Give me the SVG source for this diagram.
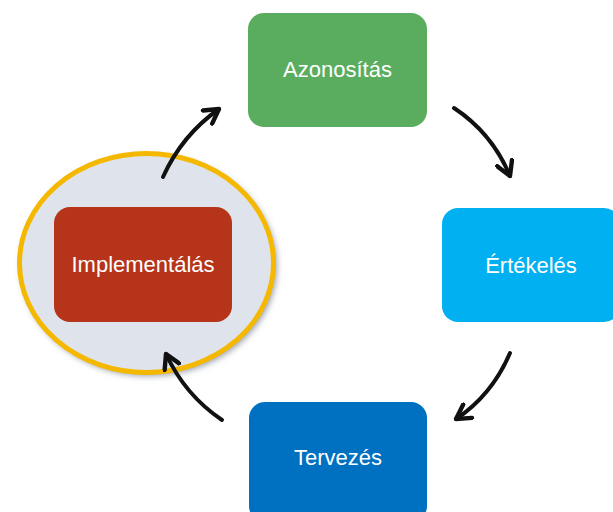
<svg xmlns="http://www.w3.org/2000/svg" width="613" height="512" viewBox="0 0 613 512">
<defs>
<style>
.lbl{font-family:"Liberation Sans",Arial,sans-serif;font-size:22px;text-anchor:middle;fill:#ffffff}
.arr{fill:none;stroke:#111;stroke-width:4;stroke-linecap:round;marker-end:url(#ah)}
</style>
<marker id="ah" viewBox="0 0 10 10" refX="8" refY="5" markerWidth="5" markerHeight="5" orient="auto" markerUnits="strokeWidth">
<polyline points="1,1 8,5 1,9" fill="none" stroke="#111" stroke-width="2.2" stroke-linecap="round" stroke-linejoin="round"/>
</marker>
<filter id="sh" x="-10%" y="-10%" width="120%" height="120%">
<feGaussianBlur stdDeviation="3"/>
</filter>
</defs>
<rect width="613" height="512" fill="#ffffff"/>
<g id="highlight">
<ellipse cx="149" cy="266" rx="128" ry="110" fill="#9aa0aa" filter="url(#sh)"/>
<ellipse cx="146.5" cy="263" rx="127" ry="109.5" fill="#dfe4ec" stroke="#f5b800" stroke-width="5"/>
</g>
<g id="azonositas">
<rect x="248" y="13" width="179" height="114" rx="16" fill="#5aad5e"/>
<text class="lbl" x="337.5" y="77" fill="#f4f8f2">Azonosítás</text>
</g>
<g id="ertekeles">
<rect x="442" y="208" width="178" height="114" rx="16" fill="#00b0f0"/>
<text class="lbl" x="531" y="273">Értékelés</text>
</g>
<g id="tervezes">
<rect x="249" y="402" width="178" height="120" rx="16" fill="#0070c0"/>
<text class="lbl" x="338" y="465">Tervezés</text>
</g>
<g id="implementalas">
<rect x="54" y="207" width="178" height="115" rx="16" fill="#b5341a"/>
<text class="lbl" x="143" y="272" fill="#f2dcd6">Implementálás</text>
</g>
<g id="connectors">
<path class="arr" d="M163,177 Q182,135 219,109"/>
<path class="arr" d="M454,108 Q492,133 510,176"/>
<path class="arr" d="M510,353 Q492,395 456,419"/>
<path class="arr" d="M222,420 Q185,395 166,354"/>
</g>
</svg>
